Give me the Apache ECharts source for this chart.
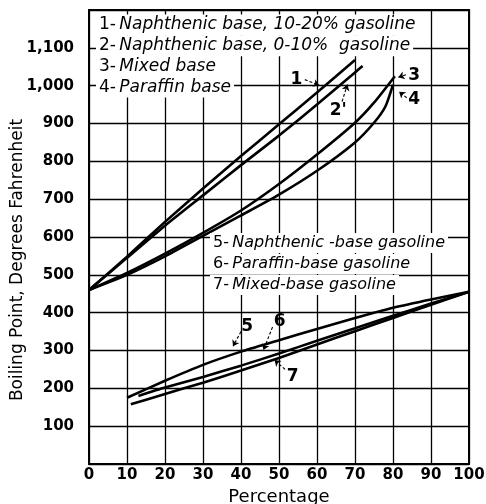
<!DOCTYPE html>
<html>
<head>
<meta charset="utf-8">
<script src="https://cdn.jsdelivr.net/npm/echarts@6/dist/echarts.min.js"></script>
<style>
  html, body { margin: 0; padding: 0; background: #fff; }
  #chart { width: 486px; height: 504px; }
</style>
</head>
<body>
<div id="chart"></div>
<script>
// Percentage distilled vs. boiling point (deg F), pairs of [percent, degrees]
const naphthenic1020 = [[0,460],[10,548],[20,640],[30,728],[40,814],[50,898],[60,982],[70,1068]];
const naphthenic010  = [[0,460],[10,545],[20,630],[30,710],[40,790],[50,868],[60,950],[70,1035],[72,1052]];
const mixedBase      = [[0,460],[10,505],[20,556],[30,611],[40,670],[50,740],[60,818],[70,902],[75,955],[80.5,1025]];
const paraffinBase   = [[0,460],[10,500],[20,549],[30,603],[40,657],[50,712],[60,775],[70,850],[75,902],[78,945],[80,1003]];

const naphtheneGasoline = [[10,175],[20,220],[30,262],[40,297],[50,327],[60,357],[70,386],[80,413],[90,435],[100,455]];
const paraffinGasoline  = [[13,180],[20,202],[30,230],[40,260],[50,292],[60,326],[70,359],[80,392],[90,424],[100,455]];
const mixedGasoline     = [[11,158],[20,185],[30,215],[40,247],[50,280],[60,316],[70,351],[80,386],[90,421],[100,455]];

const xTicks = [0,10,20,30,40,50,60,70,80,90,100];
const yTicks = [100,200,300,400,500,600,700,800,900,1000,1100];

// Curve numbers and the dashed pointers leading to each curve
const curveTags = [
  [54.6,1017,'1'],[65.6,935,"2'"],[85.6,1027,'3'],[85.6,962,'4'],
  [41.6,363,'5'],[50.2,377,'6'],[53.6,232,'7']
];
const pointers = [
  [[56.8,1016],[60.6,1001]],
  [[66.6,958],[68.0,1003]],
  [[83.4,1029],[81.4,1022]],
  [[83.6,968],[81.6,984]],
  [[40.0,350],[37.9,311]],
  [[48.3,362],[45.9,301]],
  [[51.6,250],[48.8,275]]
];

const baseLegend = [
  ['1-', 'Naphthenic base, 10-20% gasoline'],
  ['2-', 'Naphthenic base, 0-10%  gasoline'],
  ['3-', 'Mixed base'],
  ['4-', 'Paraffin base']
];
const gasolineLegend = [
  ['5-', 'Naphthenic -base gasoline'],
  ['6-', 'Paraffin-base gasoline'],
  ['7-', 'Mixed-base gasoline']
];

const yTitle = 'Boiling Point, Degrees Fahrenheit';
const xTitle = 'Percentage';

const FONT = 'DejaVu Sans';
const ink = '#000';

function curve(name, data) {
  return {
    name, type: 'line', data, symbol: 'none', smooth: 0.2,
    lineStyle: { color: ink, width: 2.6 }, z: 3
  };
}

function legendBlock(rows, x, y0, step, size) {
  return rows.map((r, i) => ({
    type: 'text', z: 100,
    style: {
      x: x, y: y0 + i * step,
      text: '{n|' + r[0] + '} {i|' + r[1] + '}',
      verticalAlign: 'middle', textVerticalAlign: 'middle',
      backgroundColor: '#fff', padding: [2, 3],
      rich: {
        n: { fontFamily: FONT, fontSize: size, fill: ink, color: ink },
        i: { fontFamily: FONT, fontSize: size, fontStyle: 'italic', fill: ink, color: ink }
      }
    }
  }));
}

const chart = echarts.init(document.getElementById('chart'), null, { renderer: 'canvas' });
chart.setOption({
  backgroundColor: '#fff',
  animation: false,
  grid: {
    left: 89, right: 17, top: 10, bottom: 40,
    outerBoundsMode: 'none', containLabel: false,
    show: true, borderColor: ink, borderWidth: 2
  },
  xAxis: {
    type: 'value', min: 0, max: 100, interval: 10,
    name: xTitle, nameLocation: 'middle', nameGap: 19,
    nameTextStyle: { fontFamily: FONT, fontSize: 18, color: ink },
    axisLine: { lineStyle: { color: ink, width: 2 } },
    axisTick: { show: false },
    axisLabel: {
      margin: 4, fontFamily: FONT, fontSize: 15, fontWeight: 'bold', color: ink,
      formatter: v => xTicks.includes(v) ? String(v) : ''
    },
    splitLine: { lineStyle: { color: ink, width: 1.3 } }
  },
  yAxis: {
    type: 'value', min: 0, max: 1200, interval: 100,
    axisLine: { lineStyle: { color: ink, width: 2 } },
    axisTick: { show: false },
    axisLabel: {
      margin: 15, fontFamily: FONT, fontSize: 15, fontWeight: 'bold', color: ink,
      formatter: v => yTicks.includes(v) ? (v >= 1000 ? Math.floor(v / 1000) + ',' + String(v % 1000).padStart(3, '0') : String(v)) : ''
    },
    splitLine: { lineStyle: { color: ink, width: 1.3 } }
  },
  graphic: legendBlock(baseLegend, 96, 25, 20.7, 17)
    .concat(legendBlock(gasolineLegend, 210, 243, 21, 16))
    .concat([{
      // vertical axis title, reading bottom to top
      type: 'text', x: 18, y: 260, rotation: Math.PI / 2, z: 100,
      style: {
        text: yTitle, fontFamily: FONT, fontSize: 17, fill: ink,
        align: 'center', verticalAlign: 'middle',
        textAlign: 'center', textVerticalAlign: 'middle'
      }
    }]),
  series: [
    curve('1', naphthenic1020),
    curve('2', naphthenic010),
    curve('3', mixedBase),
    curve('4', paraffinBase),
    curve('5', naphtheneGasoline),
    curve('6', paraffinGasoline),
    curve('7', mixedGasoline),
    {
      name: 'tags', type: 'scatter', symbolSize: 0, z: 5,
      itemStyle: { opacity: 1, color: ink },
      data: curveTags,
      label: {
        show: true, position: 'inside', formatter: p => p.data[2],
        fontFamily: FONT, fontSize: 17, fontWeight: 'bold', color: ink, textBorderWidth: 0
      },
      markLine: {
        silent: true, symbol: ['none', 'arrow'], symbolSize: 6,
        lineStyle: { color: ink, width: 1.1, type: [3, 2], opacity: 1 },
        label: { show: false },
        data: pointers.map(p => [{ coord: p[0] }, { coord: p[1] }])
      }
    }
  ]
});
</script>
</body>
</html>
